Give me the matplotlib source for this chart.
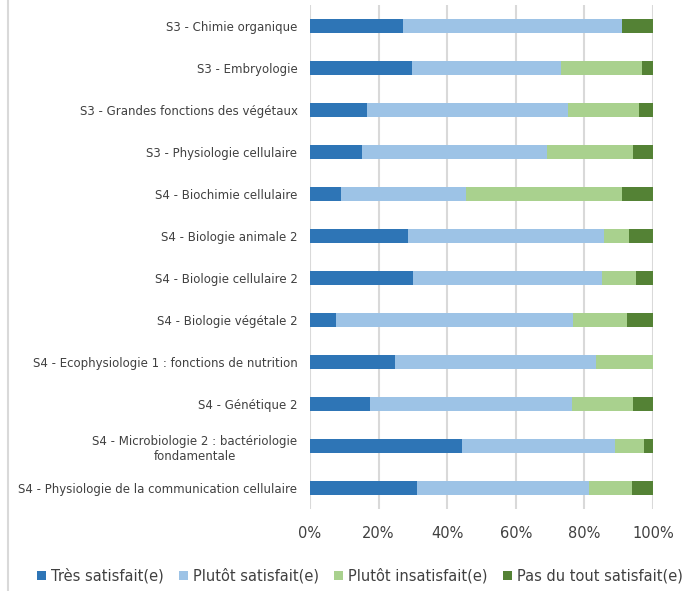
import numpy as np
import matplotlib.pyplot as plt
from matplotlib.lines import Line2D

courses = [
    "S3 - Chimie organique",
    "S3 - Embryologie",
    "S3 - Grandes fonctions des végétaux",
    "S3 - Physiologie cellulaire",
    "S4 - Biochimie cellulaire",
    "S4 - Biologie animale 2",
    "S4 - Biologie cellulaire 2",
    "S4 - Biologie végétale 2",
    "S4 - Ecophysiologie 1 : fonctions de nutrition",
    "S4 - Génétique 2",
    "S4 - Microbiologie 2 : bactériologie\nfondamentale",
    "S4 - Physiologie de la communication cellulaire",
]

tres_satisfait = [27.1, 29.8, 16.6, 15.2, 9.0, 28.5, 29.9, 7.5, 24.9, 17.4, 44.3, 31.2]
plutot_satisfait = [63.8, 43.5, 58.5, 54.0, 36.4, 57.2, 55.1, 69.3, 58.5, 59.1, 44.6, 50.0]
plutot_insatisfait = [0.0, 23.4, 20.9, 25.0, 45.6, 7.3, 10.1, 15.6, 16.6, 17.7, 8.4, 12.7]
pas_du_tout = [9.1, 3.3, 4.0, 5.8, 9.0, 7.0, 4.9, 7.6, 0.0, 5.8, 2.7, 6.1]

series = [
    ("Très satisfait(e)", tres_satisfait, "#2E75B6"),
    ("Plutôt satisfait(e)", plutot_satisfait, "#9DC3E6"),
    ("Plutôt insatisfait(e)", plutot_insatisfait, "#A9D18E"),
    ("Pas du tout satisfait(e)", pas_du_tout, "#548235"),
]

fig = plt.figure(figsize=(6.97, 5.91), dpi=100)
ax = fig.add_axes([310 / 697, 1 - 509 / 591, 343 / 697, 504 / 591])

y = np.arange(len(courses))
left = np.zeros(len(courses))
for name, vals, color in series:
    vals = np.array(vals)
    ax.barh(y, vals, left=left, height=0.35, color=color, label=name, zorder=3)
    left += vals

ax.set_xlim(0, 100)
ax.set_ylim(len(courses) - 0.5, -0.5)
ax.set_xticks(np.arange(0, 101, 20))
ax.set_xticklabels([f"{v}%" for v in range(0, 101, 20)], fontsize=10.5, color="#404040")
ax.set_yticks(y)
ax.set_yticklabels(courses, fontsize=8.5, color="#404040", multialignment="center")
ax.tick_params(axis="both", length=0)
ax.tick_params(axis="x", pad=12)
ax.tick_params(axis="y", pad=9)
ax.grid(axis="x", color="#d9d9d9", linewidth=1.5, zorder=0)
for s in ax.spines.values():
    s.set_visible(False)

ax.legend(loc="center", bbox_to_anchor=(360 / 697, 1 - 576 / 591), bbox_transform=fig.transFigure,
          ncol=4, frameon=False, fontsize=10.5, handlelength=0.6, handleheight=0.6,
          handletextpad=0.35, columnspacing=1.05, labelcolor="#404040",
          borderpad=0, borderaxespad=0)

fig.lines.append(Line2D([8 / 697, 8 / 697], [0, 1], transform=fig.transFigure,
                        color="#d9d9d9", linewidth=1.5))

fig.savefig("out.png", dpi=100)
